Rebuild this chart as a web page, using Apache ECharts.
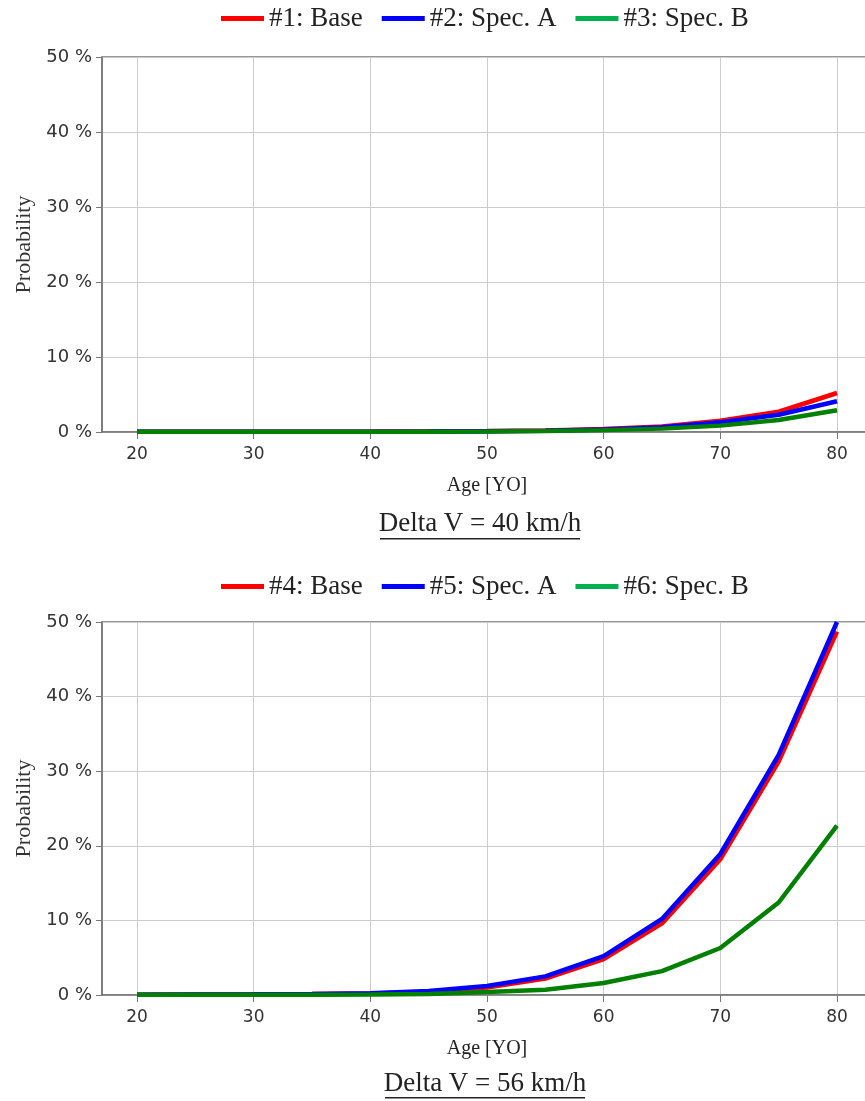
<!DOCTYPE html>
<html><head><meta charset="utf-8">
<script src="https://cdn.jsdelivr.net/npm/echarts@6/dist/echarts.min.js"></script>
<style>html,body{margin:0;padding:0;background:#fff}#c{width:865px;height:1101px}</style>
</head><body><div id="c"></div>
<script>
const ages = [20,25,30,35,40,45,50,55,60,65,70,75,80];
const xTicks = [20,30,40,50,60,70,80];
const yTicks = [0,10,20,30,40,50];
// Delta V = 40 km/h (percent)
const s1Base  = [0.05,0.05,0.05,0.05,0.06,0.08,0.12,0.2,0.4,0.75,1.5,2.7,5.2];
const s2SpecA = [0.04,0.04,0.04,0.04,0.05,0.07,0.1,0.17,0.33,0.65,1.3,2.3,4.1];
const s3SpecB = [0.03,0.03,0.03,0.03,0.04,0.05,0.07,0.12,0.25,0.45,0.85,1.6,2.9];
// Delta V = 56 km/h (percent)
const s4Base  = [0.04,0.06,0.08,0.12,0.2,0.45,1.0,2.2,4.8,9.6,18.2,31.3,48.7];
const s5SpecA = [0.05,0.07,0.1,0.15,0.25,0.55,1.2,2.5,5.2,10.2,18.9,32.2,50.0];
const s6SpecB = [0.02,0.03,0.04,0.05,0.08,0.15,0.4,0.7,1.6,3.2,6.3,12.4,22.7];
const names1 = ['#1: Base','#2: Spec. A','#3: Spec. B'];
const names2 = ['#4: Base','#5: Spec. A','#6: Spec. B'];
const titles = ['Delta V = 40 km/h','Delta V = 56 km/h'];

const lineCols = ['#ff0000','#0000ff','#008000'];
const legCols = ['#ff0000','#0000ff','#00b050'];
const serif = 'Liberation Serif';
const sans = 'DejaVu Sans';

function pairs(v){ return ages.map((a,i)=>[a,v[i]]); }

function xAxis(gi){
  return {type:'value', gridIndex:gi, min:17, max:83,
    name:'Age [YO]', nameLocation:'middle', nameGap:44,
    nameTextStyle:{fontFamily:serif, fontSize:20, color:'#222'},
    axisLine:{show:true, lineStyle:{color:'#777', width:1.5}},
    axisTick:{show:true, length:7, customValues:xTicks, lineStyle:{color:'#777'}},
    axisLabel:{customValues:xTicks, fontFamily:sans, fontSize:17, color:'#333', margin:14},
    splitLine:{show:true, lineStyle:{color:'#cccccc', width:1}}
  };
}
function yAxis(gi){
  return {type:'value', gridIndex:gi, min:0, max:50, interval:10,
    name:'Probability', nameLocation:'middle', nameGap:66,
    nameTextStyle:{fontFamily:serif, fontSize:22, color:'#333'},
    axisLine:{show:true, lineStyle:{color:'#777', width:1.5}},
    axisTick:{show:true, length:6, lineStyle:{color:'#777'}},
    axisLabel:{formatter:'{value} %', fontFamily:sans, fontSize:18, color:'#333', margin:10},
    splitLine:{show:true, lineStyle:{color:'#cccccc', width:1}}
  };
}
function series(names, vals, gi){
  return vals.map((v,i)=>({type:'line', name:names[i], xAxisIndex:gi, yAxisIndex:gi,
    data:pairs(v), symbol:'none', smooth:false,
    lineStyle:{width:4.5, color:lineCols[i]}, itemStyle:{color:lineCols[i]}, z:2+i}));
}
function legend(names, top){
  return {top:top, left:221, itemWidth:43, itemHeight:5, itemGap:19,
    icon:'rect', padding:0,
    textStyle:{fontFamily:serif, fontSize:27, color:'#222'},
    data:names.map((n,i)=>({name:n, icon:'rect', itemStyle:{color:legCols[i]}}))};
}

const chart = echarts.init(document.getElementById('c'), null, {renderer:'canvas'});
chart.setOption({
  animation:false,
  backgroundColor:'#fff',
  grid:[
    {left:102, top:57, width:770, height:375, show:true, borderColor:'#777', borderWidth:1.5, outerBoundsMode:'none', containLabel:false},
    {left:102, top:622, width:770, height:373, show:true, borderColor:'#777', borderWidth:1.5, outerBoundsMode:'none', containLabel:false}
  ],
  legend:[legend(names1, 5), legend(names2, 573)],
  title:[
    {text:titles[0], left:480, textAlign:'center', top:510, padding:0, textStyle:{fontFamily:serif, fontSize:27, fontWeight:'normal', color:'#222'}},
    {text:titles[1], left:485, textAlign:'center', top:1070, padding:0, textStyle:{fontFamily:serif, fontSize:27, fontWeight:'normal', color:'#222'}}
  ],
  graphic:[
    {type:'rect', shape:{x:380, y:538, width:200, height:1.5}, style:{fill:'#222'}},
    {type:'rect', shape:{x:385, y:1097, width:200, height:1.5}, style:{fill:'#222'}}
  ],
  xAxis:[xAxis(0), xAxis(1)],
  yAxis:[yAxis(0), yAxis(1)],
  series:[...series(names1,[s1Base,s2SpecA,s3SpecB],0), ...series(names2,[s4Base,s5SpecA,s6SpecB],1)]
});
</script></body></html>
